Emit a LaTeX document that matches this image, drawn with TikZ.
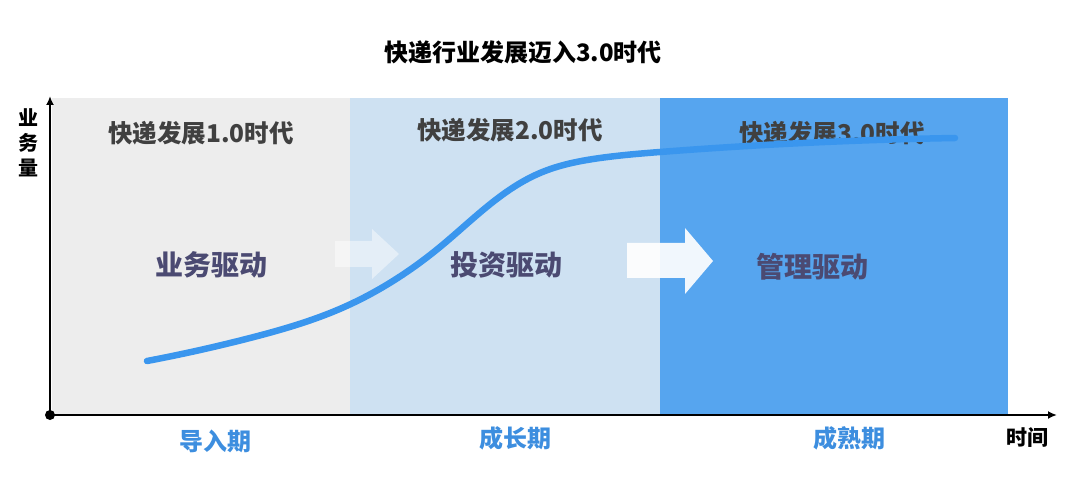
\documentclass[tikz,border=0pt]{standalone}
\usepackage{fontspec}
\setmainfont{Noto Sans CJK SC}
\usetikzlibrary{arrows.meta,hobby}
\definecolor{introGray}{HTML}{EDEDED}
\definecolor{growthBlue}{HTML}{CEE1F2}
\definecolor{matureBlue}{HTML}{56A5EF}
\definecolor{curveBlue}{HTML}{3A96EE}
\definecolor{eraText}{HTML}{404040}
\definecolor{driveText}{HTML}{4B4A72}
\definecolor{stageText}{HTML}{3D8EDF}
\tikzset{
    stage panel/.style={draw=none},
    era label/.style={
        font=\bfseries\fontsize{24.5}{28}\selectfont,
        text=eraText
    },
    drive label/.style={
        font=\bfseries\fontsize{28}{32}\selectfont,
        text=driveText
    },
    stage label/.style={
        font=\bfseries\fontsize{24}{28}\selectfont,
        text=stageText
    },
    axis/.style={
        line width=1.8pt,
        -{Latex[length=9pt,width=8pt]}
    },
    push arrow/.style={fill=white, draw=none}
}

\begin{document}
\begin{tikzpicture}[x=1pt,y=-1pt,use Hobby shortcut]
    \useasboundingbox (0,0) rectangle (1080,481);
    % three stages
    \fill[introGray] (52,98) rectangle (350,414);
    \fill[growthBlue] (350,98) rectangle (660,414);
    \fill[matureBlue] (660,98) rectangle (1008,414);

    \node[font=\bfseries\fontsize{24}{28}\selectfont] (title) at (523,52) {快递行业发展迈入3.0时代};

    \node[era label] (era1) at (201,133) {快递发展1.0时代};
    \node[era label] (era2) at (510,130) {快递发展2.0时代};
    \node[era label] (era3) at (832,133) {快递发展3.0时代};

    % arrows between drivers
    \fill[push arrow, opacity=0.45] (335,241) -- (372,241) -- (372,229) -- (399,254)
        -- (372,279) -- (372,267) -- (335,267) -- cycle;
    \fill[push arrow, opacity=0.92] (627,243) -- (685,243) -- (685,228) -- (713,261)
        -- (685,294) -- (685,278) -- (627,278) -- cycle;

    \node[drive label] (drive1) at (211,265) {业务驱动};
    \node[drive label] (drive2) at (506,265) {投资驱动};
    \node[drive label] (drive3) at (812,267) {管理驱动};

    % growth curve
    \draw[curveBlue, line width=6.5pt, line cap=round]
        (147,361) .. (250,338) .. (342,308) .. (440,247) .. (540,173) .. (600,158)
        .. (660,152) .. (955,138);

    % axes
    \coordinate (origin) at (50,415);
    \coordinate (ytip) at (50,96);
    \coordinate (xtip) at (1057,415);
    \draw[axis] (origin) -- (ytip);
    \draw[axis] (origin) -- (xtip);
    \fill (origin) circle (5);

    \node[font=\bfseries\fontsize{20}{25}\selectfont, align=center] (volume) at (28,143) {业\\务\\量};
    \node[font=\bfseries\fontsize{21}{24}\selectfont] (time) at (1027,438) {时间};

    \node[stage label] (stage1) at (215,441) {导入期};
    \node[stage label] (stage2) at (515,438) {成长期};
    \node[stage label] (stage3) at (849,438) {成熟期};
\end{tikzpicture}
\end{document}
